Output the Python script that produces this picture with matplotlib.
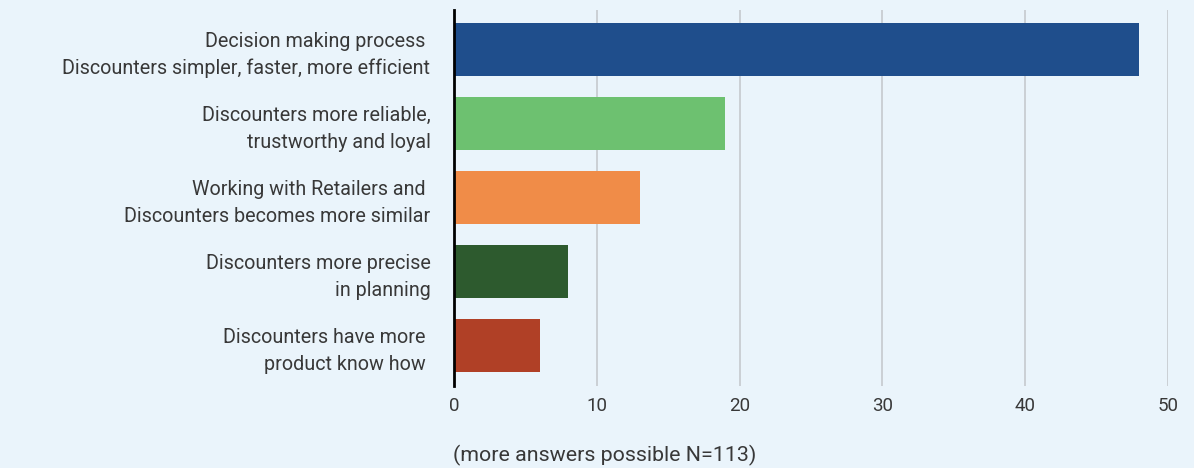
import matplotlib
matplotlib.use("Agg")
import matplotlib.pyplot as plt

categories = [
    "Decision making process \nDiscounters simpler, faster, more efficient",
    "Discounters more reliable,\ntrustworthy and loyal",
    "Working with Retailers and \nDiscounters becomes more similar",
    "Discounters more precise\nin planning",
    "Discounters have more \nproduct know how ",
]
values = [48, 19, 13, 8, 6]
colors = ["#1F4E8C", "#6DC170", "#F08C48", "#2D5A2E", "#B04026"]
xticks = [0, 10, 20, 30, 40, 50]
note = "(more answers possible N=113)"

bg = "#EAF4FB"
text_color = "#383838"
plt.rcParams["font.family"] = ["Roboto", "DejaVu Sans"]

fig = plt.figure(figsize=(11.94, 4.68), dpi=100, facecolor=bg)
ax = fig.add_axes([454 / 1194, 1 - 386 / 468, (1168 - 454) / 1194, 376 / 468])
ax.set_facecolor(bg)

pos = list(range(len(categories)))
ax.barh(pos, values, height=0.72, color=colors, zorder=3)
ax.set_ylim(4.55, -0.53)
ax.set_xlim(0, 50)
ax.set_xticks(xticks)
ax.set_xticklabels([str(t) for t in xticks], fontsize=13.5, color=text_color)
ax.set_yticks(pos)
ax.set_yticklabels(categories, fontsize=14.2, color=text_color, linespacing=1.5)
ax.tick_params(axis="both", length=0)
ax.tick_params(axis="y", pad=17)
ax.tick_params(axis="x", pad=8)
ax.grid(axis="x", color="#C8CDD2", linewidth=1.3, zorder=0)
for s in ["top", "right", "bottom"]:
    ax.spines[s].set_visible(False)
ax.spines["left"].set_color("black")
ax.spines["left"].set_linewidth(2)
ax.spines["left"].set_zorder(4)

fig.text(453 / 1194, 1 - 455 / 468, note, fontsize=15.4, color=text_color,
         ha="left", va="center")

fig.savefig("out.png", dpi=100, facecolor=bg)
